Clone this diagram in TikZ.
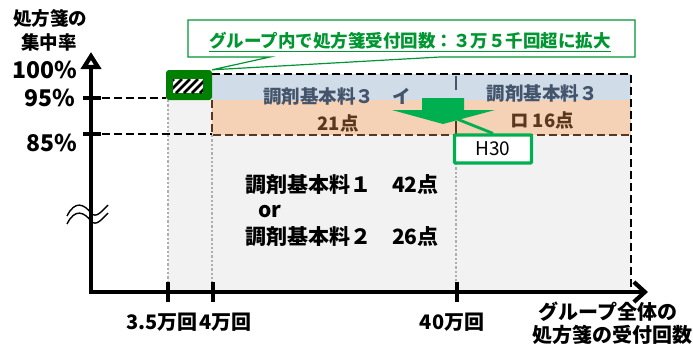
\documentclass[tikz,border=0pt]{standalone}
\usepackage{fontspec}
\setmainfont{Noto Sans CJK JP}
\usetikzlibrary{arrows.meta}

\definecolor{boxgreen}{RGB}{0,128,0}
\definecolor{callgreen}{RGB}{0,150,50}
\definecolor{arrowgreen}{RGB}{0,176,80}
\definecolor{bandblue}{RGB}{208,220,232}
\definecolor{bandorange}{RGB}{245,209,181}
\definecolor{regiongray}{RGB}{242,242,242}
\definecolor{slatetext}{RGB}{68,84,106}
\definecolor{browntext}{RGB}{89,56,30}
\definecolor{dotgray}{RGB}{175,175,175}

\tikzset{
  axisline/.style={line width=4.2pt},
  tickmark/.style={line width=4pt},
  guide/.style={line width=2.7pt, dash pattern=on 8pt off 4pt},
  dotline/.style={dotgray, line width=2.3pt, dash pattern=on 2.3pt off 2pt},
  lbl/.style={font=\bfseries\fontsize{20}{22}\selectfont, inner sep=0pt},
  pct/.style={font=\bfseries\fontsize{23}{25}\selectfont, inner sep=0pt},
  bandtxt/.style={font=\bfseries\fontsize{18.5}{20}\selectfont, inner sep=0pt},
  regiontxt/.style={font=\bfseries\fontsize{21}{23}\selectfont, inner sep=0pt, anchor=west}
}

\begin{document}
\begin{tikzpicture}[x=1pt,y=-1pt]
   \useasboundingbox (0,0) rectangle (693,346);

   % region and bands
   \fill[regiongray] (168,74) rectangle (631,292);
   \fill[bandblue] (212,74) rectangle (631,100);
   \fill[bandorange] (212,100) rectangle (631,135);

   \draw[dotline] (168,100) -- (168,284);
   \draw[dotline] (212,135) -- (212,284);
   \draw[dotline] (456,163) -- (456,284);

   \draw[browntext, guide] (212,100) -- (212,135) -- (631,135);
   \draw[slatetext, line width=2.2pt] (456,76) -- (456,90);
   \draw[browntext, line width=2.2pt] (456,121) -- (456,135);
   \draw[guide] (212,74) -- (631,74) -- (631,290);
   \draw[guide] (102,98) -- (166,98);
   \draw[guide] (102,134) -- (212,134);

   % axes
   \coordinate (origin) at (91,292);
   \coordinate (ytop) at (91,52);
   \coordinate (xend) at (648,292);
   \draw[axisline, -{Triangle[open, length=17pt, width=20pt]}] (origin) -- (ytop);
   \draw[axisline, -{Straight Barb[length=11pt, width=20pt]}] (89,292) -- (xend);
   \draw[tickmark] (83,98) -- (101,98);
   \draw[tickmark] (83,134) -- (101,134);
   \foreach \tx in {168,213,457}
      \draw[tickmark] (\tx,282) -- (\tx,302);

   % axis break
   \draw[line width=1.4pt] (67,216) .. controls (75,200) and (84,204) .. (91,213) .. controls (96,219) and (102,211) .. (108,205);
   \draw[line width=1.4pt] (67,224) .. controls (75,208) and (84,212) .. (91,221) .. controls (96,227) and (102,219) .. (108,213);

   % labels on the axes
   \node[lbl, font=\bfseries\fontsize{18.5}{20}\selectfont] (title1) at (50,18) {処方箋の};
   \node[lbl, font=\bfseries\fontsize{18.5}{20}\selectfont] (title2) at (49,42) {集中率};
   \node[pct, anchor=east] (p100) at (77,70) {100\%};
   \node[pct, anchor=east] (p95) at (75,98) {95\%};
   \node[pct, anchor=east] (p85) at (77,143) {85\%};
   \node[lbl, anchor=east] (x35) at (198,322) {3.5万回};
   \node[lbl, anchor=west] (x4) at (199,322) {4万回};
   \node[lbl] (x40) at (452,322) {40万回};
   \node[lbl] (xt1) at (608,312) {グループ全体の};
   \node[lbl] (xt2) at (612,335) {処方箋の受付回数};

   % texts in the region
   \node[bandtxt, slatetext, anchor=west] (b3i) at (263,96) {調剤基本料３　イ};
   \node[bandtxt, browntext] (b21) at (338,123) {21点};
   \node[bandtxt, slatetext] (b3ro) at (542,93) {調剤基本料３};
   \node[bandtxt, browntext] (b16) at (542,120) {ロ 16点};
   \node[regiontxt] (r1) at (245,185) {調剤基本料１　42点};
   \node[regiontxt] (ror) at (258,212) {or};
   \node[regiontxt] (r2) at (245,237) {調剤基本料２　26点};

   % hatched box and callout
   \node[fill=boxgreen, rounded corners=3pt, minimum width=46pt, minimum height=30pt, inner sep=0pt] (hatchbox) at (189,85) {};
   \fill[white] (173,79) rectangle (203,93);
   \begin{scope}
      \clip (173,79) rectangle (203,93);
      \foreach \sx in {160,168,...,216}
         \draw[line width=2.8pt] (\sx,93) -- (\sx+14,79);
   \end{scope}
   \draw[callgreen, fill=white, line width=1.2pt] (188,20) -- (635,20) -- (635,57) -- (440,57) -- (hatchbox.north east) -- (270,57) -- (188,57) -- cycle;
   \node[callgreen, font=\bfseries\fontsize{17.5}{19}\selectfont, inner sep=0pt] (callout) at (410,42) {\underline{グループ内で処方箋受付回数：３万５千回超に拡大}};

   % green arrow and H30
   \fill[arrowgreen] (422,98) -- (464,98) -- (464,110) -- (495,110) -- (443,124) -- (392,110) -- (422,110) -- cycle;
   \coordinate (arrowtip) at (457,119);
   \node[draw=arrowgreen, fill=white, line width=3.2pt, rounded corners=1pt, minimum width=77pt, minimum height=28pt, inner sep=0pt, font=\fontsize{19}{21}\selectfont] (h30) at (493,149) {H30};
   \draw[arrowgreen, line width=2.8pt] (arrowtip) -- (h30.north);
\end{tikzpicture}
\end{document}
